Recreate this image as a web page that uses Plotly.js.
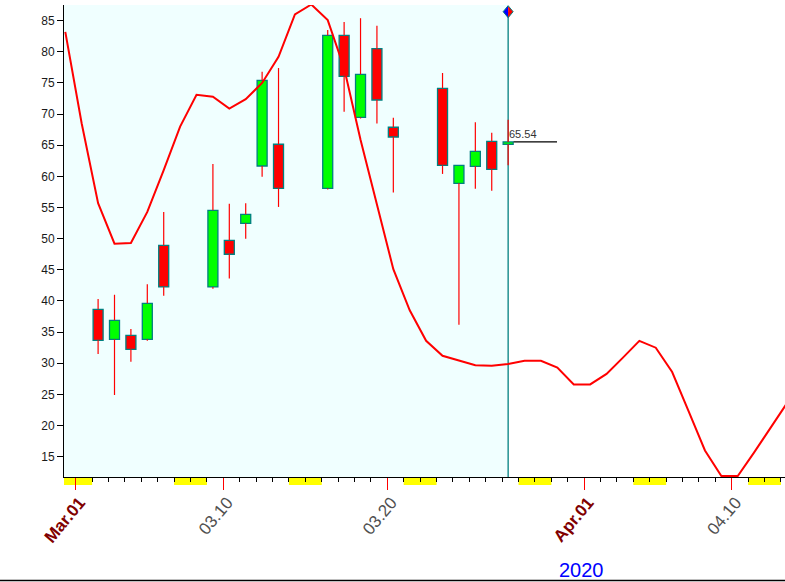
<!DOCTYPE html>
<html><head><meta charset="utf-8">
<script src="https://cdn.plot.ly/plotly-3.0.1.min.js"></script>
<style>html,body{margin:0;padding:0;background:#fff;overflow:hidden}</style>
</head><body><div id="chart" style="width:785px;height:582px"></div>
<script>
// ---- data ----
const candleDates = ['2020-03-02','2020-03-03','2020-03-04','2020-03-05','2020-03-06',
  '2020-03-09','2020-03-10','2020-03-11','2020-03-12','2020-03-13',
  '2020-03-16','2020-03-17','2020-03-18','2020-03-19','2020-03-20',
  '2020-03-23','2020-03-24','2020-03-25','2020-03-26','2020-03-27'];
const openVals  = [38.66,33.85,34.49,33.85,48.94, 42.25,49.74,52.47,61.67,65.16, 58.09,82.65,69.49,80.50,67.89, 74.15,58.89,61.62,65.64,65.15];
const highVals  = [40.30,41.00,35.50,42.70,54.30, 62.00,55.60,55.70,76.80,77.40, 83.50,84.80,85.40,84.20,69.40, 76.60,61.80,68.70,67.00,69.10];
const lowVals   = [31.50,24.90,30.25,33.60,40.85, 41.97,43.60,50.00,59.95,55.10, 57.90,70.40,69.30,68.50,57.40, 60.40,36.20,58.00,57.70,61.80];
const closeVals = [33.68,36.90,32.24,39.63,42.25, 54.56,47.50,53.92,75.43,58.09, 82.65,76.07,76.39,72.27,66.33, 61.78,61.78,64.03,61.14,65.54];

const lineDates = ['2020-02-29','2020-03-01','2020-03-02','2020-03-03','2020-03-04','2020-03-05','2020-03-06','2020-03-07','2020-03-08',
  '2020-03-09','2020-03-10','2020-03-11','2020-03-12','2020-03-13','2020-03-14','2020-03-15','2020-03-16','2020-03-17','2020-03-18',
  '2020-03-19','2020-03-20','2020-03-21','2020-03-22','2020-03-23','2020-03-24','2020-03-25','2020-03-26','2020-03-27','2020-03-28',
  '2020-03-29','2020-03-30','2020-03-31','2020-04-01','2020-04-02','2020-04-03','2020-04-04','2020-04-05','2020-04-06','2020-04-07',
  '2020-04-08','2020-04-09','2020-04-10','2020-04-11','2020-04-12','2020-04-13'];
const lineVals = [83.2,68.5,55.7,49.2,49.3,54.3,61.0,68.0,73.1,
  72.8,70.9,72.4,75.0,79.2,86.0,87.6,85.1,77.4,65.9,
  55.4,45.1,38.5,33.6,31.2,30.5,29.7,29.6,29.9,30.4,
  30.4,29.3,26.6,26.6,28.3,30.9,33.6,32.5,28.6,22.3,
  16.0,11.9,11.9,15.7,19.7,23.6];

const tickDates  = ['2020-03-01','2020-03-10','2020-03-20','2020-04-01','2020-04-10'];
const tickLabels = ['Mar.01','03.10','03.20','Apr.01','04.10'];
const tickIsMonth = [true,false,false,true,false];
const weekendStarts = ['2020-02-29','2020-03-07','2020-03-14','2020-03-21','2020-03-28','2020-04-04','2020-04-11'];
const yearLabel = '2020';
const lastDate = '2020-03-27';
const lastPrice = 65.54;

// ---- geometry helpers ----
const DAY = 86400000;
const OFF = 0.366 * DAY;
const ms = d => Date.parse(d + 'T00:00:00Z');
const ds = v => new Date(v).toISOString().replace('T',' ').replace('Z','');
const r0 = ms('2020-03-01') - 1.079 * DAY;
const r1 = ms('2020-03-01') + 42.88 * DAY;
const plotL = 64, plotR = 785, plotT = 5, plotB = 477;
const plotW = plotR - plotL, plotH = plotB - plotT;

// ---- traces ----
const wx = [], wy = [];
candleDates.forEach((d, i) => {
  const top = Math.max(openVals[i], closeVals[i]);
  const bot = Math.min(openVals[i], closeVals[i]);
  wx.push(d, d, null, d, d, null);
  wy.push(highVals[i], top, null, bot, lowVals[i], null);
});
const wicks = {type:'scatter', mode:'lines', x:wx, y:wy, line:{color:'#ff0000', width:1.2}, hoverinfo:'skip', showlegend:false};
const bodies = {
  type:'bar', x:candleDates,
  base: candleDates.map((d,i)=>Math.min(openVals[i], closeVals[i])),
  y: candleDates.map((d,i)=>Math.abs(closeVals[i]-openVals[i])),
  width: candleDates.map(()=>0.61*DAY),
  marker:{color: candleDates.map((d,i)=> closeVals[i] >= openVals[i] ? '#00ff00' : '#ff0000'),
          line:{color:'#008080', width:1.3}},
  hoverinfo:'skip', showlegend:false
};
const curve = {type:'scatter', mode:'lines', x:lineDates, y:lineVals, line:{color:'#ff0000', width:2}, hoverinfo:'skip', showlegend:false};

// ---- shapes ----
const shapes = [];
shapes.push({type:'rect', xref:'x', yref:'paper', x0: ds(r0), x1: lastDate, y0:0, y1:1, fillcolor:'#f0ffff', line:{width:0}, layer:'below'});
weekendStarts.forEach(d => {
  shapes.push({type:'rect', xref:'x', yref:'paper', x0: ds(ms(d)-OFF), x1: ds(ms(d)+2*DAY-OFF),
    y0: -8/plotH, y1: 0, fillcolor:'#ffff00', line:{width:0}, layer:'below'});
});
const diamondY = 11.7;
shapes.push({type:'line', xref:'x', yref:'paper', x0:lastDate, x1:lastDate, y0:0, y1:(plotB-diamondY)/plotH,
  line:{color:'#008080', width:1.3}, layer:'below'});
shapes.push({type:'line', xref:'x', yref:'y', x0: ds(ms(lastDate)+0.33*DAY), x1: ds(ms(lastDate)+2.98*DAY), y0:lastPrice, y1:lastPrice,
  line:{color:'#000000', width:1.2}, layer:'above'});
// diamond marker at the top of the cursor line
const xp = (ms(lastDate) - r0) / (r1 - r0);
const yp = (plotB - diamondY) / plotH;
const dx = 5 / plotW, dy = 6 / plotH;
shapes.push({type:'path', xref:'paper', yref:'paper', path:`M ${xp-dx} ${yp} L ${xp} ${yp+dy} L ${xp} ${yp-dy} Z`, fillcolor:'#0000ff', line:{width:0}, layer:'above'});
shapes.push({type:'path', xref:'paper', yref:'paper', path:`M ${xp+dx} ${yp} L ${xp} ${yp+dy} L ${xp} ${yp-dy} Z`, fillcolor:'#ff0000', line:{width:0}, layer:'above'});
shapes.push({type:'path', xref:'paper', yref:'paper', path:`M ${xp-dx} ${yp} L ${xp} ${yp+dy} L ${xp+dx} ${yp} L ${xp} ${yp-dy} Z`, line:{color:'#008080', width:1}, layer:'above'});
// bottom frame line
shapes.push({type:'line', xref:'paper', yref:'paper', x0:-plotL/plotW, x1:1, y0:-(580.5-plotB)/plotH, y1:-(580.5-plotB)/plotH, line:{color:'#000', width:1.5}, layer:'above'});

const layout = {
  width:785, height:582,
  margin:{l:plotL, r:0, t:plotT, b:582-plotB, pad:0},
  paper_bgcolor:'#ffffff', plot_bgcolor:'rgba(0,0,0,0)',
  showlegend:false, barmode:'overlay', hovermode:false,
  font:{family:'Arial, "Liberation Sans", sans-serif'},
  xaxis:{
    type:'date', range:[ds(r0), ds(r1)], showgrid:false, zeroline:false,
    showline:true, linecolor:'#000', linewidth:1,
    tickmode:'array', tickvals: tickDates.map(d=>ds(ms(d)-OFF)),
    ticktext: tickLabels.map((t,i)=> tickIsMonth[i] ? `<b><span style="color:#800000">${t}</span></b>` : t),
    ticks:'outside', ticklen:12, tickcolor:'#ff0000', tickwidth:1,
    tickangle:-50, tickfont:{size:17, color:'#505050'},
    ticklabelshift:4, ticklabelstandoff:-4,
    minor:{tick0: ds(ms('2020-03-01')-OFF), dtick: DAY, ticks:'outside', ticklen:4, tickcolor:'#000', tickwidth:1, showgrid:false}
  },
  yaxis:{
    range:[11.74, 87.52], showgrid:false, zeroline:false,
    showline:true, linecolor:'#000', linewidth:1,
    tick0:0, dtick:5, ticks:'outside', ticklen:6, tickcolor:'#000',
    tickfont:{size:12, color:'#1a1a1a'}
  },
  shapes: shapes,
  annotations:[
    {xref:'x', yref:'y', x:lastDate, y:lastPrice, text:String(lastPrice), showarrow:false, xanchor:'left', yanchor:'bottom',
     font:{size:11, color:'#333'}, borderpad:0, yshift:1},
    {xref:'paper', yref:'paper', x:(581-plotL)/plotW, y:-(570-plotB)/plotH, text:yearLabel, showarrow:false, xanchor:'center', yanchor:'middle',
     font:{size:20, color:'#0000ff'}}
  ]
};
Plotly.newPlot('chart', [wicks, bodies, curve], layout, {staticPlot:true, displayModeBar:false});
</script></body></html>
